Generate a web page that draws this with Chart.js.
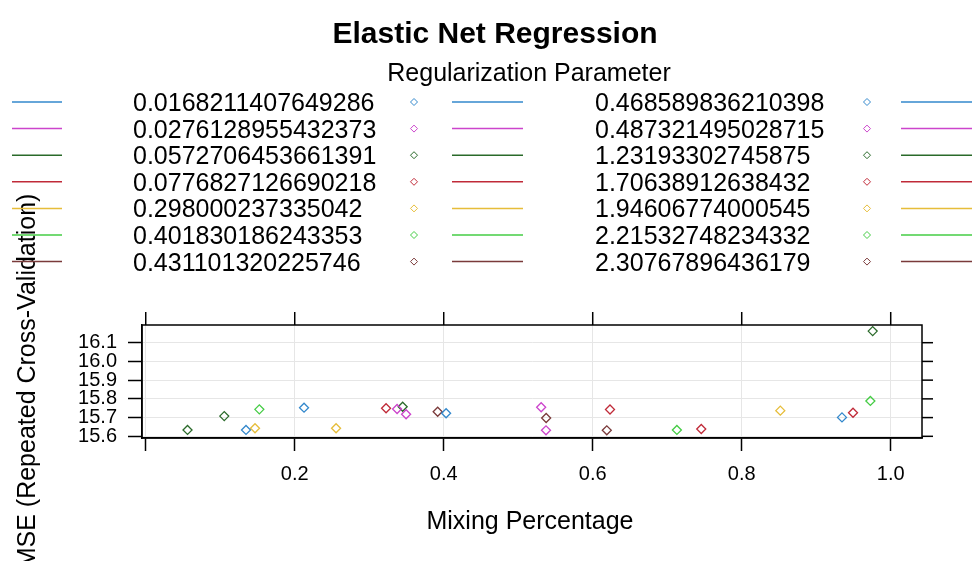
<!DOCTYPE html>
<html>
<head>
<meta charset="utf-8">
<script src="https://cdn.jsdelivr.net/npm/chart.js@4.4.1/dist/chart.umd.min.js"></script>
<style>
  html, body { margin: 0; padding: 0; background: #fff; }
  #wrap { width: 972px; height: 561px; }
</style>
</head>
<body>
<div id="wrap"><canvas id="enetChart" width="972" height="561"></canvas></div>
<script>
// Regularization parameters shown in the key (two visible columns)
const lambdaColA = ['0.0168211407649286', '0.0276128955432373', '0.0572706453661391', '0.0776827126690218',
  '0.298000237335042', '0.401830186243353', '0.431101320225746'];
const lambdaColB = ['0.468589836210398', '0.487321495028715', '1.23193302745875', '1.70638912638432',
  '1.94606774000545', '2.21532748234332', '2.30767896436179'];

// Points grouped by key colour (mixing percentage, RMSE)
const mixBlue = [0.1346, 0.2125, 0.4032, 0.9346];
const rmseBlue = [15.634, 15.753, 15.723, 15.701];
const mixMagenta = [0.3374, 0.3495, 0.5308, 0.5373];
const rmseMagenta = [15.746, 15.718, 15.755, 15.632];
const mixDarkGreen = [0.0561, 0.1054, 0.3449, 0.9758];
const rmseDarkGreen = [15.634, 15.708, 15.758, 16.162];
const mixRed = [0.3226, 0.6232, 0.7457, 0.9494];
const rmseRed = [15.750, 15.743, 15.639, 15.726];
const mixOrange = [0.1467, 0.2555, 0.8518];
const rmseOrange = [15.643, 15.643, 15.737];
const mixGreen = [0.1525, 0.7130, 0.9727];
const rmseGreen = [15.744, 15.634, 15.789];
const mixBrown = [0.3919, 0.5375, 0.6189];
const rmseBrown = [15.731, 15.698, 15.632];

const xTicks = [0, 0.2, 0.4, 0.6, 0.8, 1.0];
const xTickLabels = ['', '0.2', '0.4', '0.6', '0.8', '1.0'];
const yTicks = [15.6, 15.7, 15.8, 15.9, 16.0, 16.1];
const yTickLabels = ['15.6', '15.7', '15.8', '15.9', '16.0', '16.1'];

const keyColors = ['#3388cc', '#cc44cc', '#2a6a2a', '#c02a38', '#e6bd3a', '#44cc44', '#7a3a3a'];
const FONT = "'Liberation Sans', Arial, sans-serif";

const groups = [
  [mixBlue, rmseBlue], [mixMagenta, rmseMagenta], [mixDarkGreen, rmseDarkGreen], [mixRed, rmseRed],
  [mixOrange, rmseOrange], [mixGreen, rmseGreen], [mixBrown, rmseBrown]
];

const datasets = groups.map((g, i) => ({
  label: 'group ' + (i + 1),
  data: g[0].map((x, j) => ({ x: x, y: g[1][j] })),
  pointStyle: 'rectRot',
  radius: 4.5,
  borderWidth: 1.3,
  borderColor: keyColors[i],
  backgroundColor: 'rgba(0,0,0,0)'
}));

function seg(ctx, x1, y1, x2, y2) {
  ctx.beginPath();
  ctx.moveTo(x1, y1);
  ctx.lineTo(x2, y2);
  ctx.stroke();
}

// frame, top/right ticks, titles and key
const latticeDecor = {
  id: 'latticeDecor',
  afterDraw(chart) {
    const ctx = chart.ctx;
    const a = chart.chartArea;
    const xs = chart.scales.x, ys = chart.scales.y;
    ctx.save();
    ctx.strokeStyle = '#000';
    ctx.lineWidth = 1.5;
    xTicks.forEach(v => {
      const px = xs.getPixelForValue(v);
      seg(ctx, px, a.top, px, a.top - 13);
    });
    yTicks.forEach(v => {
      const py = ys.getPixelForValue(v);
      seg(ctx, a.right, py, a.right + 11, py);
    });
    ctx.strokeRect(a.left, a.top, a.right - a.left, a.bottom - a.top);

    ctx.fillStyle = '#000';
    ctx.textAlign = 'center';
    ctx.textBaseline = 'alphabetic';
    ctx.font = 'bold 30px ' + FONT;
    ctx.fillText('Elastic Net Regression', 495, 43);
    ctx.font = '25px ' + FONT;
    ctx.fillText('Regularization Parameter', 529, 81);
    ctx.fillText('Mixing Percentage', 530, 529);

    ctx.save();
    ctx.translate(35, 390);
    ctx.rotate(-Math.PI / 2);
    ctx.fillText('RMSE (Repeated Cross-Validation)', 0, 0);
    ctx.restore();

    // key rows
    ctx.textAlign = 'left';
    ctx.font = '25px ' + FONT;
    lambdaColA.forEach((lab, i) => {
      const cy = 102 + i * 26.6;
      const col = keyColors[i];
      ctx.strokeStyle = col;
      ctx.lineWidth = 1.5;
      seg(ctx, 12, cy, 62, cy);
      seg(ctx, 452, cy, 523, cy);
      seg(ctx, 901, cy, 972, cy);
      ctx.fillStyle = '#000';
      ctx.fillText(lab, 133, cy + 9);
      ctx.fillText(lambdaColB[i], 595, cy + 9);
      const pt = { pointStyle: 'rectRot', radius: 3.5, borderWidth: 1 };
      ctx.lineWidth = 1;
      ctx.fillStyle = 'rgba(0,0,0,0)';
      Chart.helpers.drawPoint(ctx, pt, 414, cy);
      Chart.helpers.drawPoint(ctx, pt, 867, cy);
    });
    ctx.restore();
  }
};

new Chart(document.getElementById('enetChart'), {
  type: 'scatter',
  data: { datasets: datasets },
  options: {
    responsive: false,
    animation: false,
    devicePixelRatio: 1,
    layout: { padding: { left: 0, right: 50, top: 325, bottom: 0 } },
    plugins: { legend: { display: false }, tooltip: { enabled: false } },
    scales: {
      x: {
        type: 'linear',
        min: -0.005,
        max: 1.042,
        afterFit: s => { s.height = 123; },
        afterBuildTicks: s => { s.ticks = xTicks.map(v => ({ value: v })); },
        grid: { color: '#e6e6e6', lineWidth: 1, tickColor: '#000', tickWidth: 1.5, tickLength: 13 },
        border: { color: '#000', width: 1.5 },
        ticks: {
          color: '#000', font: { family: FONT, size: 20 }, padding: 11, maxRotation: 0, autoSkip: false,
          callback: (v, i) => xTickLabels[i]
        }
      },
      y: {
        type: 'linear',
        min: 15.591,
        max: 16.1945,
        afterFit: s => { s.width = 142; },
        afterBuildTicks: s => { s.ticks = yTicks.map(v => ({ value: v })); },
        grid: { color: '#e6e6e6', lineWidth: 1, tickColor: '#000', tickWidth: 1.5, tickLength: 14 },
        border: { color: '#000', width: 1.5 },
        ticks: {
          color: '#000', font: { family: FONT, size: 20, lineHeight: 1 }, padding: 11, autoSkip: false,
          callback: (v, i) => yTickLabels[i]
        }
      }
    }
  },
  plugins: [latticeDecor]
});
</script>
</body>
</html>
